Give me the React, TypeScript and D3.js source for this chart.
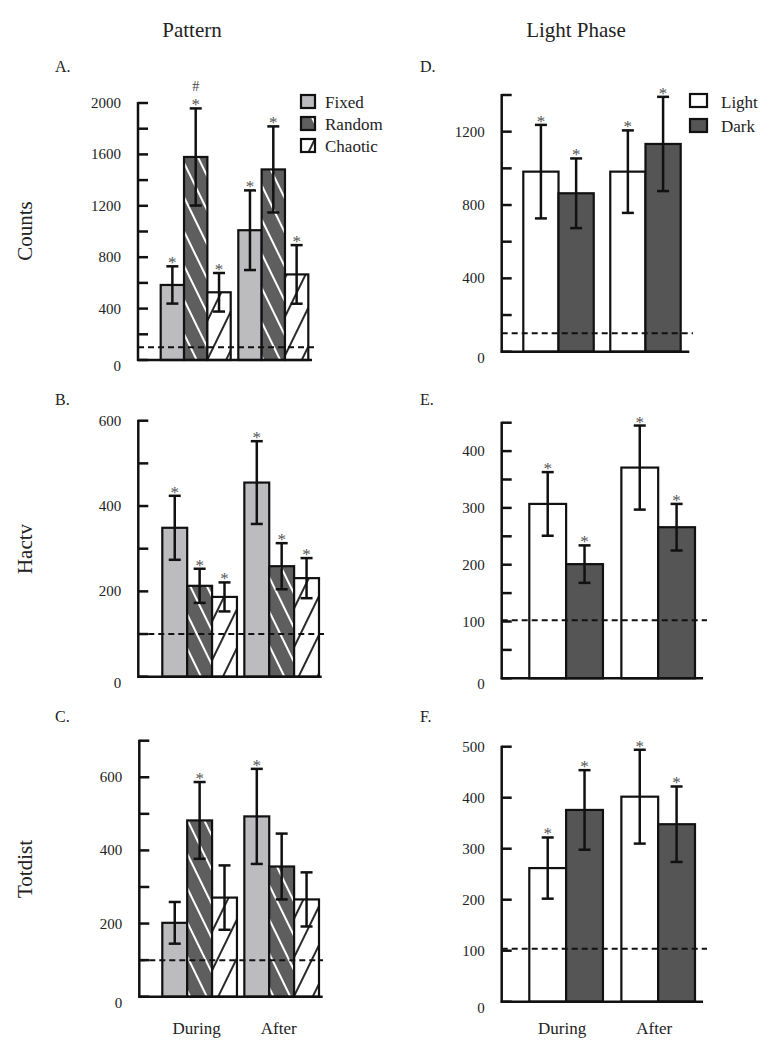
import React from "react";
import * as d3 from "d3";

// ---------- data ----------
const GROUPS = ["During", "After"];
const PATTERN_SERIES = ["Fixed", "Random", "Chaotic"];
const PHASE_SERIES = ["Light", "Dark"];

// Counts (Pattern)
const countsFixed = [584, 1010];
const countsFixedErr = [145, 310];
const countsRandom = [1580, 1483];
const countsRandomErr = [378, 335];
const countsChaotic = [527, 666];
const countsChaoticErr = [150, 228];
const countsPatternStars = [[true, true], [true, true], [true, true]];
const countsPatternHash = [[false, false], [true, false], [false, false]];

// Hactv (Pattern)
const hactvFixed = [349, 455];
const hactvFixedErr = [75, 97];
const hactvRandom = [213, 259];
const hactvRandomErr = [40, 54];
const hactvChaotic = [187, 231];
const hactvChaoticErr = [34, 47];
const hactvPatternStars = [[true, true], [true, true], [true, true]];

// Totdist (Pattern)
const totdistFixed = [202, 493];
const totdistFixedErr = [57, 130];
const totdistRandom = [482, 356];
const totdistRandomErr = [105, 90];
const totdistChaotic = [271, 266];
const totdistChaoticErr = [88, 74];
const totdistPatternStars = [[false, true], [true, false], [false, false]];

// Light phase
const countsLight = [982, 982];
const countsLightErr = [255, 225];
const countsDark = [864, 1133];
const countsDarkErr = [190, 257];
const hactvLight = [307, 371];
const hactvLightErr = [56, 74];
const hactvDark = [201, 266];
const hactvDarkErr = [33, 41];
const totdistLight = [262, 402];
const totdistLightErr = [60, 92];
const totdistDark = [376, 348];
const totdistDarkErr = [78, 74];
const allStars2 = [[true, true], [true, true]];

// control baselines (dashed)
const baselineCountsPattern = 100;
const baselineHactvPattern = 100;
const baselineTotdistPattern = 100;
const baselineCountsPhase = 100;
const baselineHactvPhase = 102;
const baselineTotdistPhase = 104;

// axis domains / ticks
const countsPatternDomain = [0, 2000];
const countsPatternMinor = d3.range(0, 2001, 200);
const countsPatternLabels = [0, 400, 800, 1200, 1600, 2000];
const hactvPatternDomain = [0, 600];
const hactvPatternMinor = d3.range(0, 601, 100);
const hactvPatternLabels = [0, 200, 400, 600];
const totdistPatternDomain = [0, 700];
const totdistPatternMinor = d3.range(0, 701, 100);
const totdistPatternLabels = [0, 200, 400, 600];
const countsPhaseDomain = [0, 1400];
const countsPhaseMinor = d3.range(0, 1401, 200);
const countsPhaseLabels = [0, 400, 800, 1200];
const hactvPhaseDomain = [0, 450];
const hactvPhaseMinor = d3.range(0, 451, 50);
const hactvPhaseLabels = [0, 100, 200, 300, 400];
const totdistPhaseDomain = [0, 500];
const totdistPhaseMinor = d3.range(0, 501, 100);
const totdistPhaseLabels = [0, 100, 200, 300, 400, 500];

// ---------- styles ----------
const FONT = "'Liberation Serif', 'Times New Roman', serif";
const FILLS: Record<string, string> = {
  Fixed: "#bcbcbe",
  Random: "url(#hatchRandom)",
  Chaotic: "url(#hatchChaotic)",
  Light: "#ffffff",
  Dark: "#555555",
};

type Series = { name: string; mean: number[]; err: number[]; stars: boolean[]; hash?: boolean[] };

type PanelProps = {
  letter: string;
  letterX: number;
  letterY: number;
  axisX: number;
  yTop: number;
  y0: number;
  domain: number[];
  minor: number[];
  labels: number[];
  xRange: [number, number];
  padInner: number;
  baseEnd: number;
  dashEnd: number;
  dashValue: number;
  series: Series[];
};

function Panel(p: PanelProps) {
  const y = d3.scaleLinear().domain(p.domain).range([p.y0, p.yTop]);
  const x0 = d3.scaleBand<string>().domain(GROUPS).range(p.xRange).paddingInner(p.padInner).paddingOuter(0);
  const x1 = d3
    .scaleBand<string>()
    .domain(p.series.map((s) => s.name))
    .range([0, x0.bandwidth()])
    .padding(0);
  return (
    <g>
      <text x={p.letterX} y={p.letterY} fontSize={16} fontFamily={FONT} fill="#222">
        {p.letter}
      </text>
      {/* bars */}
      {p.series.map((s) =>
        GROUPS.map((g, gi) => (
          <rect
            key={s.name + g}
            x={(x0(g) as number) + (x1(s.name) as number)}
            y={y(s.mean[gi])}
            width={x1.bandwidth()}
            height={p.y0 - y(s.mean[gi])}
            fill={FILLS[s.name]}
            stroke="#111"
            strokeWidth={2.2}
          />
        ))
      )}
      {/* dashed control line */}
      <line
        x1={p.axisX}
        x2={p.dashEnd}
        y1={y(p.dashValue)}
        y2={y(p.dashValue)}
        stroke="#111"
        strokeWidth={2}
        strokeDasharray="6,4"
      />
      {/* error bars + stars */}
      {p.series.map((s) =>
        GROUPS.map((g, gi) => {
          const cx = (x0(g) as number) + (x1(s.name) as number) + x1.bandwidth() / 2;
          const top = y(s.mean[gi] + s.err[gi]);
          const bot = y(s.mean[gi] - s.err[gi]);
          return (
            <g key={"e" + s.name + g}>
              <line x1={cx} x2={cx} y1={top} y2={bot} stroke="#111" strokeWidth={2.5} />
              <line x1={cx - 6} x2={cx + 6} y1={top} y2={top} stroke="#111" strokeWidth={2.5} />
              <line x1={cx - 6} x2={cx + 6} y1={bot} y2={bot} stroke="#111" strokeWidth={2.5} />
              {s.stars[gi] && (
                <text x={cx} y={top + 2} textAnchor="middle" fontSize={17} fontFamily={FONT} fill="#555">
                  *
                </text>
              )}
              {s.hash && s.hash[gi] && (
                <text x={cx} y={top - 17} textAnchor="middle" fontSize={14} fontFamily={FONT} fill="#444">
                  #
                </text>
              )}
            </g>
          );
        })
      )}
      {/* axes */}
      <line x1={p.axisX} x2={p.axisX} y1={p.yTop - 1} y2={p.y0 + 1} stroke="#111" strokeWidth={2.5} />
      <line x1={p.axisX - 1} x2={p.baseEnd} y1={p.y0} y2={p.y0} stroke="#111" strokeWidth={2.5} />
      {p.minor.map((t) => (
        <line key={"t" + t} x1={p.axisX} x2={p.axisX + 10} y1={y(t)} y2={y(t)} stroke="#111" strokeWidth={2.5} />
      ))}
      {p.labels.map((t) => (
        <text
          key={"l" + t}
          x={p.axisX - 17}
          y={y(t) + (t === 0 ? 11 : 5)}
          textAnchor="end"
          fontSize={15}
          fontFamily={FONT}
          fill="#222"
        >
          {t}
        </text>
      ))}
    </g>
  );
}

function mk(names: string[], means: number[][], errs: number[][], stars: boolean[][], hash?: boolean[][]): Series[] {
  return names.map((n, i) => ({ name: n, mean: means[i], err: errs[i], stars: stars[i], hash: hash ? hash[i] : undefined }));
}

export default function App() {
  const leftA = { axisX: 138, xRange: [160.7, 308.3] as [number, number], padInner: 0.098 };
  const leftBC = { xRange: [162.3, 319] as [number, number], padInner: 0.09 };
  const rightD = { axisX: 501.7, xRange: [523.3, 680.7] as [number, number], padInner: 0.19 };
  const rightEF = { axisX: 501.7, xRange: [529.3, 695] as [number, number], padInner: 0.2 };

  return (
    <svg width={771} height={1048} style={{ position: "absolute", left: 0, top: 0, background: "#fff" }}>
      <defs>
        <pattern id="hatchRandom" patternUnits="userSpaceOnUse" width={15} height={15} patternTransform="rotate(-26)">
          <rect width={15} height={15} fill="#5e5e5e" />
          <line x1={4} y1={0} x2={4} y2={15} stroke="#fff" strokeWidth={2} />
        </pattern>
        <pattern id="hatchChaotic" patternUnits="userSpaceOnUse" width={17} height={17} patternTransform="rotate(26)">
          <rect width={17} height={17} fill="#fff" />
          <line x1={4} y1={0} x2={4} y2={17} stroke="#111" strokeWidth={1.8} />
        </pattern>
      </defs>
      <rect width={771} height={1048} fill="#fff" />

      {/* column titles */}
      <text x={192} y={37} textAnchor="middle" fontSize={21} fontFamily={FONT} fill="#222">
        Pattern
      </text>
      <text x={576} y={37} textAnchor="middle" fontSize={21} fontFamily={FONT} fill="#222">
        Light Phase
      </text>

      {/* y titles */}
      <text transform="translate(32,231) rotate(-90)" textAnchor="middle" fontSize={21} fontFamily={FONT} fill="#222">
        Counts
      </text>
      <text transform="translate(32,549) rotate(-90)" textAnchor="middle" fontSize={21} fontFamily={FONT} fill="#222">
        Hactv
      </text>
      <text transform="translate(32,869) rotate(-90)" textAnchor="middle" fontSize={21} fontFamily={FONT} fill="#222">
        Totdist
      </text>

      {/* A */}
      <Panel
        letter="A."
        letterX={55}
        letterY={72}
        axisX={leftA.axisX}
        yTop={103}
        y0={360}
        domain={countsPatternDomain}
        minor={countsPatternMinor}
        labels={countsPatternLabels}
        xRange={leftA.xRange}
        padInner={leftA.padInner}
        baseEnd={312}
        dashEnd={318}
        dashValue={baselineCountsPattern}
        series={mk(
          PATTERN_SERIES,
          [countsFixed, countsRandom, countsChaotic],
          [countsFixedErr, countsRandomErr, countsChaoticErr],
          countsPatternStars,
          countsPatternHash
        )}
      />
      {/* B */}
      <Panel
        letter="B."
        letterX={55}
        letterY={405}
        axisX={138.3}
        yTop={420.7}
        y0={676.7}
        domain={hactvPatternDomain}
        minor={hactvPatternMinor}
        labels={hactvPatternLabels}
        xRange={leftBC.xRange}
        padInner={leftBC.padInner}
        baseEnd={321.7}
        dashEnd={324}
        dashValue={baselineHactvPattern}
        series={mk(
          PATTERN_SERIES,
          [hactvFixed, hactvRandom, hactvChaotic],
          [hactvFixedErr, hactvRandomErr, hactvChaoticErr],
          hactvPatternStars
        )}
      />
      {/* C */}
      <Panel
        letter="C."
        letterX={55}
        letterY={722}
        axisX={139.3}
        yTop={740.7}
        y0={996.7}
        domain={totdistPatternDomain}
        minor={totdistPatternMinor}
        labels={totdistPatternLabels}
        xRange={leftBC.xRange}
        padInner={leftBC.padInner}
        baseEnd={322.7}
        dashEnd={323}
        dashValue={baselineTotdistPattern}
        series={mk(
          PATTERN_SERIES,
          [totdistFixed, totdistRandom, totdistChaotic],
          [totdistFixedErr, totdistRandomErr, totdistChaoticErr],
          totdistPatternStars
        )}
      />
      {/* D */}
      <Panel
        letter="D."
        letterX={420}
        letterY={72}
        axisX={rightD.axisX}
        yTop={95}
        y0={351.7}
        domain={countsPhaseDomain}
        minor={countsPhaseMinor}
        labels={countsPhaseLabels}
        xRange={rightD.xRange}
        padInner={rightD.padInner}
        baseEnd={689.3}
        dashEnd={693}
        dashValue={baselineCountsPhase}
        series={mk(PHASE_SERIES, [countsLight, countsDark], [countsLightErr, countsDarkErr], allStars2)}
      />
      {/* E */}
      <Panel
        letter="E."
        letterX={420}
        letterY={405}
        axisX={rightEF.axisX}
        yTop={422.7}
        y0={678.3}
        domain={hactvPhaseDomain}
        minor={hactvPhaseMinor}
        labels={hactvPhaseLabels}
        xRange={rightEF.xRange}
        padInner={rightEF.padInner}
        baseEnd={703}
        dashEnd={707}
        dashValue={baselineHactvPhase}
        series={mk(PHASE_SERIES, [hactvLight, hactvDark], [hactvLightErr, hactvDarkErr], allStars2)}
      />
      {/* F */}
      <Panel
        letter="F."
        letterX={420}
        letterY={722}
        axisX={rightEF.axisX}
        yTop={746.7}
        y0={1001.7}
        domain={totdistPhaseDomain}
        minor={totdistPhaseMinor}
        labels={totdistPhaseLabels}
        xRange={rightEF.xRange}
        padInner={rightEF.padInner}
        baseEnd={703}
        dashEnd={707}
        dashValue={baselineTotdistPhase}
        series={mk(PHASE_SERIES, [totdistLight, totdistDark], [totdistLightErr, totdistDarkErr], allStars2)}
      />

      {/* x category labels */}
      {GROUPS.map((g) => {
        const xl = d3.scaleBand<string>().domain(GROUPS).range(leftBC.xRange).paddingInner(leftBC.padInner);
        const xr = d3.scaleBand<string>().domain(GROUPS).range(rightEF.xRange).paddingInner(rightEF.padInner);
        return (
          <g key={"xl" + g}>
            <text x={(xl(g) as number) + xl.bandwidth() / 2 - 3} y={1034} textAnchor="middle" fontSize={17} fontFamily={FONT} fill="#222">
              {g}
            </text>
            <text x={(xr(g) as number) + xr.bandwidth() / 2 - 4} y={1034} textAnchor="middle" fontSize={17} fontFamily={FONT} fill="#222">
              {g}
            </text>
          </g>
        );
      })}

      {/* legend A */}
      {PATTERN_SERIES.map((s, i) => (
        <g key={"lg" + s}>
          <rect x={301} y={95 + i * 22} width={14} height={13} fill={FILLS[s]} stroke="#111" strokeWidth={2.2} />
          <text x={325} y={108 + i * 22} fontSize={17} fontFamily={FONT} fill="#222">
            {s}
          </text>
        </g>
      ))}
      {/* legend D */}
      {PHASE_SERIES.map((s, i) => (
        <g key={"ld" + s}>
          <rect x={690} y={94 + i * 25} width={17} height={13} fill={FILLS[s]} stroke="#111" strokeWidth={2.2} />
          <text x={721} y={108 + i * 24} fontSize={17} fontFamily={FONT} fill="#222">
            {s}
          </text>
        </g>
      ))}
    </svg>
  );
}
